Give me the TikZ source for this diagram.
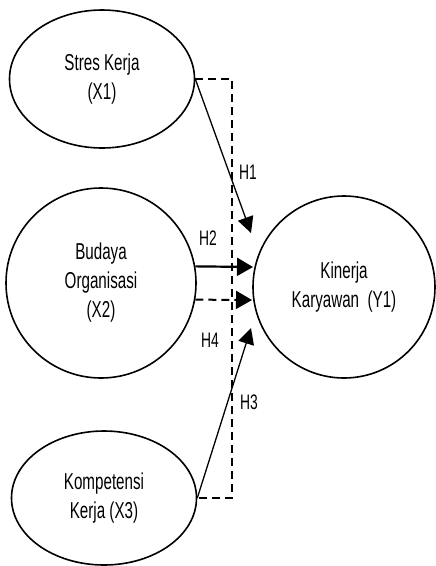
\documentclass[tikz,border=0pt]{standalone}
\usepackage{fontspec}
\setmainfont{Liberation Sans}[FakeStretch=0.66]
\usetikzlibrary{shapes.geometric,arrows.meta}

\tikzset{
  latent/.style={draw, ellipse, line width=1.6pt, inner sep=0pt, align=center,
    font=\fontsize{23}{29}\selectfont},
  hlabel/.style={font=\fontsize{21}{24}\selectfont},
  effect/.style={line width=1.3pt, -{Triangle[length=16pt,width=16pt]}},
  joint/.style={line width=2pt, dash pattern=on 8pt off 5pt}
}

\begin{document}
\begin{tikzpicture}[x=1pt,y=-1pt]
				\useasboundingbox (0,0) rectangle (436,566);
				\node[latent, minimum width=185pt, minimum height=138pt] (x1) at (102,79) {Stres Kerja\\(X1)};
				\node[latent, minimum width=190pt, minimum height=190pt] (x2) at (101,283) {Budaya\\Organisasi\\(X2)};
				\node[latent, minimum width=185pt, minimum height=134pt] (x3) at (104,498) {Kompetensi\\Kerja (X3)};
				\node[latent, minimum width=182pt, minimum height=182pt] (y1) at (344,287) {Kinerja\\Karyawan\ \ (Y1)};
				\coordinate (t1) at (251,233);
				\coordinate (t2) at (253,267);
				\coordinate (t3) at (252,300);
				\coordinate (t4) at (251,328);
				% dashed bracket for the joint effect
				\draw[joint] (x1.east) -- ++(37,0) |- (x3.east);
				\draw[joint, -{Triangle[length=16pt,width=18pt]}] (x2.-10) -- (t3);
				\draw[effect] (x1.east) -- (t1);
				\draw[effect, line width=2.2pt, -{Triangle[length=16pt,width=18pt]}] (x2.10) -- (t2);
				\draw[effect] (x3.east) -- (t4);
				\node[hlabel] (h1) at (248,172) {H1};
				\node[hlabel] (h2) at (208,238) {H2};
				\node[hlabel] (h4) at (210,340) {H4};
				\node[hlabel] (h3) at (249,402) {H3};
			\end{tikzpicture}
\end{document}
